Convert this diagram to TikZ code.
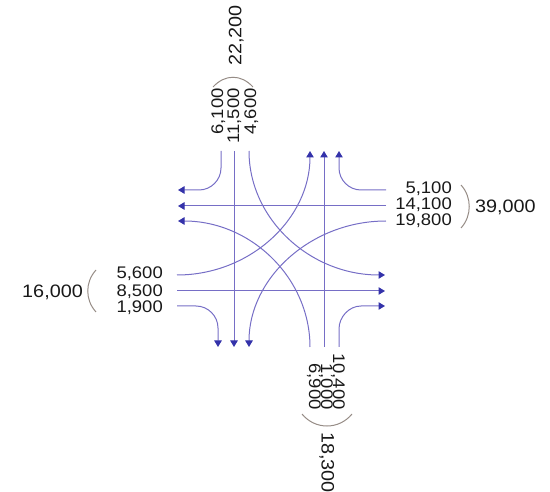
\documentclass[tikz,border=0pt]{standalone}
\usepackage{fontspec}
\usepackage{tikz}
\usepackage{xcolor}
\usetikzlibrary{arrows.meta}

\newfontfamily\volfont[FakeStretch=1.1]{Liberation Sans}
\definecolor{laneblue}{RGB}{118,110,198}
\definecolor{tipblue}{RGB}{52,50,170}
\definecolor{bracegray}{RGB}{150,140,134}
\definecolor{textgray}{RGB}{25,25,25}

\begin{document}
\begin{tikzpicture}[x=1pt, y=-1pt,
    lane/.style={laneblue, line width=1pt, -{Triangle[length=6.5pt,width=7.5pt,color=tipblue]}},
    brace/.style={bracegray, line width=1pt},
    vol/.style={font=\volfont\fontsize{16.8}{20}\selectfont, textgray, inner sep=0pt, text height=12pt, text depth=0pt},
    sum/.style={font=\volfont\fontsize{18}{21}\selectfont, textgray, inner sep=0pt, text height=12.9pt, text depth=0pt}]
  \useasboundingbox (0,0) rectangle (550,492);

  % Southbound (from the top)
  \draw[lane] (221,151) -- (221,168) .. controls (221,180) and (211,190) .. (199,190) -- (178,190);
  \draw[lane] (234,151) -- (234,347);
  \draw[lane] (249,151) .. controls (249,219) and (310,275) .. (385,275);

  % Westbound (from the right)
  \draw[lane] (386,190) -- (361,190) .. controls (349,190) and (339,180) .. (339,168) -- (339,151);
  \draw[lane] (386,206) -- (178,206);
  \draw[lane] (386,221) .. controls (311,221) and (249,278) .. (249,347);

  % Eastbound (from the left)
  \draw[lane] (177,306) -- (196,306) .. controls (208,306) and (218,316) .. (218,328) -- (218,347);
  \draw[lane] (177,291) -- (385,291);
  \draw[lane] (177,275) .. controls (250,275) and (310,219) .. (310,151);

  % Northbound (from the bottom)
  \draw[lane] (339,347) -- (339,329) .. controls (339,317) and (349,306) .. (361,306) -- (385,306);
  \draw[lane] (324,347) -- (324,151);
  \draw[lane] (310,347) .. controls (310,278) and (251,221) .. (178,221);

  % Volumes, north approach
  \node[vol, rotate=90, anchor=east] (sbR) at (217,88) {6,100};
  \node[vol, rotate=90, anchor=east] (sbT) at (233,88) {11,500};
  \node[vol, rotate=90, anchor=east] (sbL) at (250,88) {4,600};
  \draw[brace] (213,87) .. controls (225,74) and (241,74) .. (253,87);
  \node[sum, rotate=90, anchor=west] (sbSum) at (235,66) {22,200};

  % Volumes, east approach
  \node[vol, anchor=east] (wbR) at (452,188) {5,100};
  \node[vol, anchor=east] (wbT) at (452,204) {14,100};
  \node[vol, anchor=east] (wbL) at (452,220) {19,800};
  \draw[brace] (461,185) .. controls (472,197) and (472,216) .. (461,228);
  \node[sum, anchor=west] (wbSum) at (475,206) {39,000};

  % Volumes, west approach
  \node[vol, anchor=east] (ebL) at (163,273) {5,600};
  \node[vol, anchor=east] (ebT) at (163,291) {8,500};
  \node[vol, anchor=east] (ebR) at (163,307) {1,900};
  \draw[brace] (96,270) .. controls (85,282) and (85,300) .. (96,312);
  \node[sum, anchor=east] (ebSum) at (83,291) {16,000};

  % Volumes, south approach
  \node[vol, rotate=-90, anchor=east] (nbR) at (339,410) {10,400};
  \node[vol, rotate=-90, anchor=east] (nbT) at (327,410) {1,000};
  \node[vol, rotate=-90, anchor=east] (nbL) at (315,410) {6,900};
  \draw[brace] (302,414) .. controls (315,430) and (339,430) .. (352,414);
  \node[sum, rotate=-90, anchor=west] (nbSum) at (328,432) {18,300};
\end{tikzpicture}
\end{document}
